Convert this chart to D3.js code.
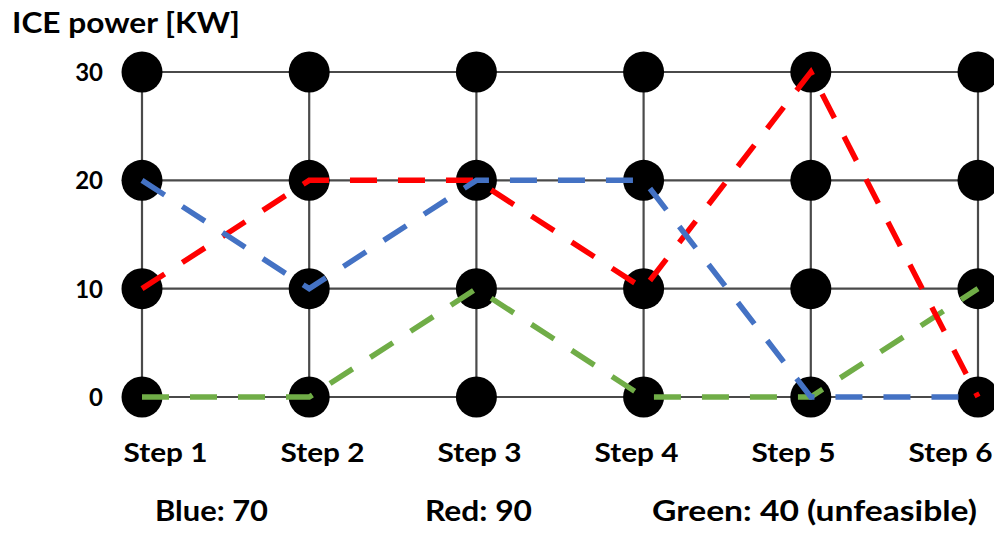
<!DOCTYPE html>
<html>
<head>
<meta charset="utf-8">
<script src="https://cdn.jsdelivr.net/npm/d3@7"></script>
<style>
  html, body { margin: 0; padding: 0; background: #fff; }
  svg { display: block; }
  text { font-family: Lato, "Open Sans", sans-serif; font-weight: 700; fill: #000; }
</style>
</head>
<body>
<svg id="chart" width="994" height="534"></svg>
<script>
// ---- data ----
const steps = ["Step 1", "Step 2", "Step 3", "Step 4", "Step 5", "Step 6"];
const powerLevels = [0, 10, 20, 30];
const yTickLabels = ["0", "10", "20", "30"];
const blueValues  = [20, 10, 20, 20, 0, 0];
const redValues   = [10, 20, 20, 10, 30, 0];
const greenValues = [0, 0, 10, 0, 0, 10];
const yTitle = "ICE power [KW]";
const costLabels = ["Blue: 70", "Red: 90", "Green: 40 (unfeasible)"];

// ---- layout ----
const svg = d3.select("#chart");
const x = d3.scalePoint().domain(steps).range([142, 978]);
const xLabel = d3.scalePoint().domain(steps).range([165, 950]);
const y = d3.scaleLinear().domain([0, 30]).range([397, 72]);

// grid
const grid = svg.append("g").attr("stroke", "#4a4a4a").attr("stroke-width", 2.2);
grid.selectAll("line.h").data(powerLevels).join("line")
  .attr("class", "h")
  .attr("x1", x(steps[0])).attr("x2", x(steps[steps.length - 1]))
  .attr("y1", d => y(d)).attr("y2", d => y(d));
grid.selectAll("line.v").data(steps).join("line")
  .attr("class", "v")
  .attr("x1", d => x(d)).attr("x2", d => x(d))
  .attr("y1", y(0)).attr("y2", y(30));

// nodes
const nodes = [];
steps.forEach(s => powerLevels.forEach(p => nodes.push({ s, p })));
svg.append("g").selectAll("circle").data(nodes).join("circle")
  .attr("cx", d => x(d.s)).attr("cy", d => y(d.p)).attr("r", 20.5)
  .attr("fill", "#000");

// dashed paths
const line = d3.line().x((d, i) => x(steps[i])).y(d => y(d));
const series = [
  { values: greenValues, color: "#70AD47" },
  { values: redValues,   color: "#FF0000" },
  { values: blueValues,  color: "#4472C4" }
];
svg.append("g").selectAll("path").data(series).join("path")
  .attr("d", d => line(d.values))
  .attr("fill", "none")
  .attr("stroke", d => d.color)
  .attr("stroke-width", 5.5)
  .attr("stroke-dasharray", "27 21")
  .attr("stroke-linejoin", "miter");

// y title
svg.append("text").attr("x", 12).attr("y", 33)
  .attr("font-size", 28)
  .attr("textLength", 228).attr("lengthAdjust", "spacingAndGlyphs")
  .text(yTitle);

// y tick labels
const yAxis = d3.axisLeft(y).tickValues(powerLevels)
  .tickFormat((d, i) => yTickLabels[i]).tickSize(0).tickPadding(0);
const ya = svg.append("g").attr("transform", "translate(103,0)").call(yAxis);
ya.select(".domain").remove();
ya.selectAll("text")
  .attr("font-size", 24)
  .attr("font-family", "Lato, 'Open Sans', sans-serif")
  .attr("font-weight", 700)
  .attr("fill", "#000")
  .attr("text-anchor", "end")
  .attr("dy", "0.36em");

// x labels
const xAxis = d3.axisBottom(xLabel).tickSize(0).tickPadding(0);
const xa = svg.append("g").attr("transform", "translate(0,444)").call(xAxis);
xa.select(".domain").remove();
xa.selectAll("text")
  .attr("font-size", 26)
  .attr("font-family", "Lato, 'Open Sans', sans-serif")
  .attr("font-weight", 700)
  .attr("fill", "#000")
  .attr("textLength", 84).attr("lengthAdjust", "spacingAndGlyphs")
  .attr("dy", "0.71em");

// cost labels
const costX = [155, 425, 652];
const costW = [113, 107, 325];
svg.append("g").selectAll("text").data(costLabels).join("text")
  .attr("x", (d, i) => costX[i]).attr("y", 521)
  .attr("font-size", 29)
  .attr("textLength", (d, i) => costW[i]).attr("lengthAdjust", "spacingAndGlyphs")
  .text(d => d);
</script>
</body>
</html>
